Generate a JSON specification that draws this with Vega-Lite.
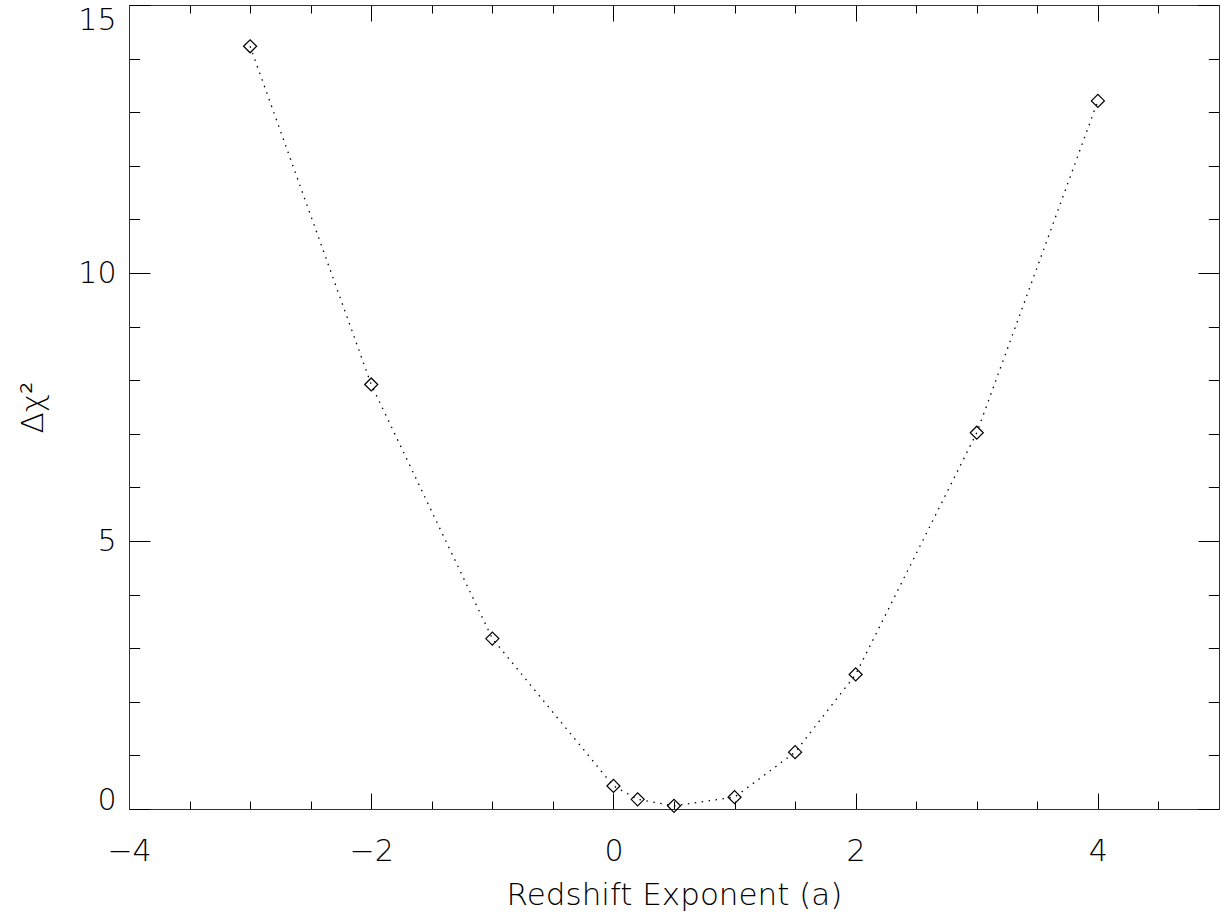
{
  "$schema": "https://vega.github.io/schema/vega-lite/v6.json",
  "width": 1090,
  "height": 804,
  "autosize": "none",
  "padding": {"left": 129, "top": 5, "right": 3, "bottom": 113},
  "background": "white",
  "config": {
    "view": {"stroke": null},
    "axis": {
      "labelFont": "DejaVu Sans",
      "labelFontWeight": 200,
      "labelFontSize": 30,
      "labelColor": "#000",
      "titleFont": "DejaVu Sans",
      "titleFontWeight": 200,
      "titleFontSize": 31,
      "titleColor": "#000",
      "domainColor": "#333",
      "domainWidth": 1,
      "tickColor": "#000",
      "tickWidth": 1,
      "grid": false,
      "labelOverlap": false
    }
  },
  "data": {
    "values": [
      {"a": -3, "dchi2": 14.23},
      {"a": -2, "dchi2": 7.92},
      {"a": -1, "dchi2": 3.18},
      {"a": 0, "dchi2": 0.43},
      {"a": 0.2, "dchi2": 0.18},
      {"a": 0.5, "dchi2": 0.06},
      {"a": 1, "dchi2": 0.22},
      {"a": 1.5, "dchi2": 1.06},
      {"a": 2, "dchi2": 2.51},
      {"a": 3, "dchi2": 7.02},
      {"a": 4, "dchi2": 13.21}
    ]
  },
  "resolve": {"axis": {"x": "independent", "y": "independent"}},
  "layer": [
    {
      "mark": {"type": "line", "color": "#000", "strokeWidth": 1.3, "strokeDash": [1.5, 5.5]},
      "encoding": {
        "x": {
          "field": "a", "type": "quantitative",
          "scale": {"domain": [-4, 5], "nice": false, "zero": false},
          "axis": {
            "orient": "bottom",
            "title": "Redshift Exponent (a)",
            "format": ".0f",
            "values": [-4, -3.5, -3, -2.5, -2, -1.5, -1, -0.5, 0, 0.5, 1, 1.5, 2, 2.5, 3, 3.5, 4, 4.5, 5],
            "tickSize": {"condition": {"test": "datum.value % 2 === 0", "value": -16}, "value": -8},
            "labelExpr": "datum.value % 2 === 0 ? datum.label : ''",
            "labelFlush": false,
            "labelPadding": 43,
            "titlePadding": 6
          }
        },
        "y": {
          "field": "dchi2", "type": "quantitative",
          "scale": {"domain": [0, 15], "nice": false, "zero": false},
          "axis": {
            "orient": "left",
            "title": "Δχ²",
            "values": [0, 1, 2, 3, 4, 5, 6, 7, 8, 9, 10, 11, 12, 13, 14, 15],
            "tickSize": {"condition": {"test": "datum.value % 5 === 0", "value": -21}, "value": -10.7},
            "labelExpr": "datum.value % 5 === 0 ? datum.label : ''",
            "labelFlush": false,
            "labelBaseline": {"condition": [{"test": "datum.value === 0", "value": "alphabetic"}, {"test": "datum.value === 15", "value": "top"}], "value": "middle"},
            "labelPadding": 34,
            "titlePadding": 28
          }
        }
      }
    },
    {
      "mark": {"type": "point", "shape": "diamond", "filled": false, "color": "#000", "strokeWidth": 1.2, "size": 170, "opacity": 1},
      "encoding": {
        "x": {
          "field": "a", "type": "quantitative",
          "axis": {
            "orient": "top",
            "title": null,
            "labels": false,
            "values": [-4, -3.5, -3, -2.5, -2, -1.5, -1, -0.5, 0, 0.5, 1, 1.5, 2, 2.5, 3, 3.5, 4, 4.5, 5],
            "tickSize": {"condition": {"test": "datum.value % 2 === 0", "value": -16}, "value": -8}
          }
        },
        "y": {
          "field": "dchi2", "type": "quantitative",
          "axis": {
            "orient": "right",
            "title": null,
            "labels": false,
            "values": [0, 1, 2, 3, 4, 5, 6, 7, 8, 9, 10, 11, 12, 13, 14, 15],
            "tickSize": {"condition": {"test": "datum.value % 5 === 0", "value": -21}, "value": -10.7}
          }
        }
      }
    }
  ]
}
